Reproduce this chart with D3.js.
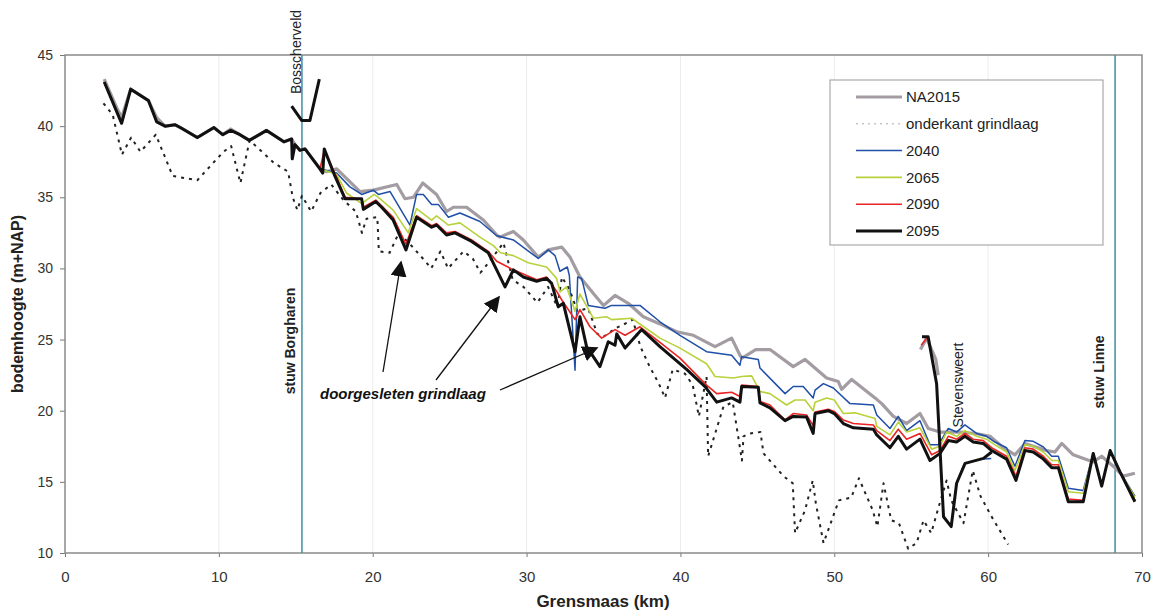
<!DOCTYPE html>
<html><head><meta charset="utf-8">
<script src="https://cdn.jsdelivr.net/npm/d3@7"></script>
<style>
body{margin:0;background:#fff;}
svg{display:block;font-family:"Liberation Sans",Arial,sans-serif;}
</style></head>
<body><svg id="c" width="1151" height="613"></svg>
<script>
// ---- data (km, m+NAP) ----
const xTicks = [0,10,20,30,40,50,60,70];
const yTicks = [10,15,20,25,30,35,40,45];
const upstream = [[2.55,43.1],[3.68,40.2],[4.27,42.6],[5.42,41.8],[5.96,40.3],[6.5,40.0],[7.15,40.1],[7.58,39.85],[8.6,39.2],[9.68,39.9],[10.25,39.4],[10.77,39.7],[11.37,39.4],[11.98,39.0],[13.1,39.7],[14.23,38.9],[14.73,39.1],[14.77,37.7],[14.95,38.7],[15.27,38.3],[15.6,38.4],[16.57,37.0]];
const na2015 = [[2.55,43.3],[3.4,41.2],[3.68,40.6],[4.27,42.6],[5.42,41.8],[5.96,40.6],[6.5,40.0],[7.15,40.1],[7.58,39.85],[8.6,39.2],[9.68,39.9],[10.25,39.4],[10.77,39.8],[11.37,39.4],[11.98,39.0],[13.1,39.7],[14.23,38.9],[14.73,39.1],[14.95,38.7],[15.27,38.3],[15.6,38.4],[16.57,37.0],[17.0,36.8],[17.66,37.0],[19.17,35.4],[20.04,35.5],[21.56,35.9],[22.1,34.9],[22.64,35.0],[23.25,36.0],[24.15,35.2],[24.8,34.0],[25.24,34.3],[26.1,34.3],[27.19,33.4],[28.06,32.35],[28.27,32.2],[29.14,32.6],[29.79,32.0],[30.76,30.8],[31.41,31.3],[32.28,31.5],[32.82,30.8],[33.47,29.4],[34.45,28.1],[35.0,27.4],[35.75,28.1],[36.61,27.55],[37.59,26.6],[38.67,26.1],[39.76,25.55],[40.84,25.3],[42.25,24.5],[43.33,25.1],[43.87,23.9],[44.0,23.7],[44.9,24.3],[45.82,24.3],[47.33,23.1],[48.1,23.6],[49.5,22.3],[50.26,22.05],[50.48,21.5],[51.13,22.2],[52.65,20.9],[53.08,20.5],[53.84,19.6],[54.7,19.1],[55.57,19.8],[56.11,18.75],[56.87,18.5],[58.17,18.5],[59.2,18.4],[60.12,18.2],[60.88,17.5],[61.74,16.9],[62.39,17.7],[63.8,17.2],[64.34,17.1],[64.78,17.7],[65.53,16.9],[66.83,16.4],[67.38,16.8],[68.13,16.1],[68.78,15.4],[69.54,15.6]];
const grindlaag = [[2.5,41.6],[3.1,40.8],[3.7,38.0],[4.3,39.2],[4.9,38.2],[5.9,39.4],[7.0,36.5],[8.6,36.2],[10.3,38.2],[10.8,38.6],[11.4,36.0],[12.0,39.0],[13.6,37.4],[14.5,36.8],[14.8,35.0],[15.1,34.1],[15.4,35.1],[16.0,34.0],[16.6,35.3],[17.3,35.9],[18.1,34.8],[18.9,34.0],[19.3,32.5],[19.6,33.5],[20.3,33.6],[20.4,31.2],[21.1,31.1],[21.7,32.5],[22.6,31.5],[23.5,30.4],[23.8,30.0],[24.4,31.2],[24.9,30.0],[25.9,31.2],[26.5,30.7],[27.0,29.7],[27.6,30.5],[28.5,31.8],[29.1,29.2],[29.8,28.7],[30.7,27.6],[31.4,28.7],[32.0,27.3],[32.3,29.4],[32.8,28.5],[33.3,27.0],[34.0,27.2],[34.6,25.4],[35.0,25.2],[35.8,25.8],[36.2,26.0],[36.9,26.4],[37.4,24.5],[38.0,23.1],[38.6,21.9],[39.0,20.9],[39.5,22.9],[40.3,22.6],[40.8,21.8],[41.2,19.6],[41.7,22.4],[41.8,16.8],[42.8,20.3],[43.4,20.6],[44.0,16.5],[44.1,18.2],[44.5,18.4],[45.2,18.5],[45.4,17.0],[46.7,15.4],[47.3,14.9],[47.45,11.4],[48.1,13.0],[48.6,15.1],[48.8,13.5],[49.3,10.7],[50.3,13.7],[51.1,13.9],[51.6,15.25],[52.5,13.0],[52.8,11.85],[53.2,14.9],[53.7,12.3],[54.2,12.1],[54.8,10.3],[55.35,10.7],[55.8,12.3],[56.3,11.4],[56.8,13.3],[57.3,15.1],[57.6,13.7],[58.4,12.1],[59.0,15.8],[59.5,14.0],[60.2,12.6],[61.3,10.6]];
const s2040 = upstream.concat([[17.66,36.7],[18.5,35.75],[19.28,35.2],[20.04,35.5],[20.37,35.2],[21.13,35.4],[22.42,33.05],[22.85,35.2],[23.29,35.2],[23.83,34.5],[24.26,34.5],[24.92,33.6],[25.67,33.9],[26.97,33.3],[28.06,32.3],[29.14,32.0],[30.76,30.7],[31.41,31.3],[31.85,30.9],[32.17,29.8],[32.65,30.1],[32.78,29.5],[33.15,22.85],[33.32,29.4],[33.58,29.3],[34.01,27.4],[35.1,27.2],[35.53,27.4],[37.37,27.4],[38.67,26.25],[39.97,25.3],[41.7,24.15],[43.33,23.9],[43.87,23.2],[43.98,23.8],[45.06,23.6],[45.17,23.0],[46.8,21.2],[47.33,21.7],[47.98,21.7],[48.63,20.9],[48.75,21.45],[49.29,21.9],[49.94,21.6],[51.02,20.5],[52.54,20.4],[52.76,19.7],[53.62,18.75],[54.16,19.6],[54.7,18.6],[55.57,19.3],[56.22,17.6],[56.76,17.6],[57.41,18.75],[57.95,18.5],[58.49,19.0],[59.25,18.4],[59.9,18.2],[60.44,17.8],[61.2,17.4],[61.74,16.1],[62.39,17.9],[62.93,17.85],[63.59,17.45],[64.13,16.8],[64.56,16.8],[65.21,14.55],[66.18,14.4],[66.83,17.0],[67.38,14.7],[67.93,17.2],[68.57,15.7],[69.54,14.0]]);
const s2065 = upstream.concat([[17.66,36.6],[18.3,35.3],[19.28,34.55],[20.1,35.2],[20.47,34.9],[21.33,34.1],[22.31,32.5],[22.85,34.2],[23.83,33.4],[24.15,33.7],[24.92,33.05],[25.67,33.2],[26.97,32.2],[27.84,31.6],[28.3,31.1],[29.14,30.9],[30.11,30.4],[31.3,30.1],[31.95,29.3],[32.17,28.35],[32.6,28.7],[33.15,27.0],[33.47,28.2],[34.34,26.5],[35.2,26.6],[35.53,26.4],[36.83,26.5],[38.67,25.1],[39.97,24.4],[41.7,23.3],[42.25,22.4],[43.44,22.3],[43.98,22.4],[44.63,22.45],[45.17,21.35],[45.82,21.2],[46.9,20.4],[47.45,20.75],[48.1,20.75],[48.63,20.0],[48.75,20.6],[49.5,20.9],[50.0,20.75],[50.59,19.8],[51.35,19.85],[52.65,19.45],[52.76,18.9],[53.62,18.3],[54.16,19.2],[54.7,18.5],[55.57,18.8],[56.33,17.3],[56.87,17.5],[57.3,18.5],[57.95,18.2],[58.49,18.6],[59.25,18.2],[59.9,18.0],[60.44,17.6],[61.2,17.1],[61.74,15.8],[62.39,17.6],[62.93,17.5],[63.59,17.1],[64.13,16.5],[64.56,16.5],[65.21,14.3],[66.18,14.2],[66.83,17.0],[67.38,14.7],[67.93,17.2],[68.57,15.7],[69.54,13.9]]);
const s2090 = upstream.concat([[16.85,38.3],[17.66,36.4],[18.2,35.0],[19.28,34.9],[19.39,34.3],[20.2,34.8],[20.58,34.4],[21.33,33.6],[22.16,31.7],[22.85,33.7],[23.83,33.0],[24.15,33.15],[24.8,32.5],[25.35,32.6],[26.43,32.0],[27.51,31.2],[28.06,30.5],[28.6,30.2],[29.14,29.9],[30.66,29.2],[31.3,29.4],[31.95,28.4],[32.28,27.8],[33.15,26.4],[33.47,27.1],[34.12,25.9],[34.88,25.1],[35.75,25.7],[36.4,25.3],[37.37,25.9],[38.67,24.8],[39.97,23.7],[41.7,21.8],[42.36,21.2],[43.33,21.3],[43.87,21.0],[43.98,21.8],[45.06,21.7],[45.17,20.65],[45.82,20.4],[46.8,19.35],[47.33,19.8],[48.2,19.7],[48.63,18.95],[48.75,19.9],[49.61,20.1],[50.0,19.95],[50.59,19.35],[51.24,19.1],[52.54,19.0],[52.76,18.6],[53.62,17.9],[54.16,18.7],[54.7,18.0],[55.57,18.4],[56.33,16.9],[56.87,17.2],[57.41,18.2],[57.95,18.0],[58.49,18.4],[59.03,18.0],[59.68,17.9],[60.23,17.4],[61.2,16.8],[61.81,15.4],[62.39,17.4],[62.93,17.3],[63.59,16.8],[64.13,16.2],[64.56,16.2],[65.21,13.8],[66.18,13.7],[66.83,17.0],[67.38,14.7],[67.93,17.2],[68.57,15.7],[69.54,13.7]]);
const s2095 = upstream.concat([[16.75,36.7],[16.85,38.4],[17.5,36.6],[18.2,34.9],[19.28,34.9],[19.39,34.15],[20.2,34.7],[20.58,34.3],[21.33,33.4],[22.16,31.3],[22.85,33.6],[23.83,32.9],[24.15,33.05],[24.8,32.35],[25.35,32.5],[26.43,31.9],[27.51,31.1],[28.6,28.7],[29.14,29.9],[29.79,29.4],[30.66,29.1],[31.3,29.3],[31.63,28.95],[32.06,27.3],[32.39,27.55],[33.15,24.15],[33.47,26.6],[33.9,24.5],[34.77,23.1],[35.31,24.85],[35.75,24.6],[35.86,25.4],[36.4,24.4],[37.48,25.7],[38.67,24.5],[39.43,23.8],[40.4,22.9],[41.6,21.7],[42.36,20.6],[43.33,20.9],[43.87,20.6],[43.98,21.7],[45.06,21.65],[45.17,20.55],[45.82,20.2],[46.8,19.3],[47.33,19.6],[48.2,19.55],[48.63,18.4],[48.75,19.8],[49.61,20.0],[50.0,19.8],[50.59,19.1],[51.24,18.8],[52.54,18.7],[52.76,18.3],[53.62,17.4],[54.16,18.2],[54.7,17.3],[55.57,18.0],[56.22,16.5],[56.87,17.0],[57.41,17.9],[57.95,17.8],[58.49,18.2],[59.03,17.8],[59.68,17.7],[60.23,17.2],[61.2,16.6],[61.81,15.1],[62.39,17.2],[62.93,17.1],[63.59,16.6],[64.13,16.0],[64.56,16.0],[65.21,13.6],[66.18,13.6],[66.83,17.0],[67.38,14.7],[67.93,17.2],[68.57,15.7],[69.54,13.6]]);
const bosscherveld2095 = [[14.73,41.4],[15.38,40.4],[15.92,40.4],[16.53,43.3]];
const stevensweert2095 = [[55.7,25.2],[56.1,25.2],[56.65,21.9],[57.1,12.55],[57.6,11.85],[57.95,14.9],[58.5,16.3],[59.7,16.65],[60.23,17.1]];
const stevensweertNA = [[55.6,24.3],[56.0,25.1],[56.6,23.6],[56.75,22.5]];
const stevensweert2090 = [[55.65,24.6],[56.0,25.1],[56.2,24.9]];
const stevensweert2040 = [[59.7,16.6],[60.2,16.65]];
const structures = [{name:"stuw Borgharen", km:15.4, bold:true},{name:"stuw Linne", km:68.25, bold:true}];
const legendItems = ["NA2015","onderkant grindlaag","2040","2065","2090","2095"];

// ---- chart ----
const svg = d3.select("#c");
const x = d3.scaleLinear().domain([0,70]).range([65,1142]);
const y = d3.scaleLinear().domain([10,45]).range([553,55]);
const line = d3.line().x(d=>x(d[0])).y(d=>y(d[1]));

// faint gridlines
svg.append("g").selectAll("line").data(xTicks.slice(1,-1)).join("line")
  .attr("x1",d=>x(d)).attr("x2",d=>x(d)).attr("y1",55).attr("y2",553)
  .attr("stroke","#ececec").attr("stroke-width",1);

// axes
const ya = svg.append("g").attr("transform","translate(65,0)")
  .call(d3.axisLeft(y).tickValues(yTicks).tickSize(5).tickPadding(7));
const xa = svg.append("g").attr("transform","translate(0,553)")
  .call(d3.axisBottom(x).tickValues(xTicks).tickSize(4).tickPadding(14));
[ya,xa].forEach(a=>{a.select(".domain").remove();a.selectAll("line").attr("stroke","#777");
  a.selectAll("text").attr("fill","#333").style("font-size","14px");});
xa.selectAll("text").style("font-family","'Liberation Sans Narrow','Arial Narrow',sans-serif").style("font-size","15px");

// frame
svg.append("rect").attr("x",65).attr("y",55).attr("width",1142-65).attr("height",553-55)
  .attr("fill","none").attr("stroke","#8a8a8a").attr("stroke-width",1.5);

// structure lines
svg.append("g").selectAll("line").data(structures).join("line")
  .attr("x1",d=>x(d.km)).attr("x2",d=>x(d.km)).attr("y1",55).attr("y2",553)
  .attr("stroke","#3f8f9f").attr("stroke-width",1.5);

const styles = {
  grind:{stroke:"#222",w:2,dash:"3,5"},
  na:{stroke:"#a39ca2",w:3.2},
  b:{stroke:"#1f4fa6",w:1.5},
  g:{stroke:"#b7d23a",w:1.6},
  r:{stroke:"#ea2424",w:1.6},
  k:{stroke:"#111",w:3}
};
function draw(data, s){
  svg.append("path").datum(data).attr("d",line).attr("fill","none")
    .attr("stroke",s.stroke).attr("stroke-width",s.w)
    .attr("stroke-linejoin","round").attr("stroke-dasharray",s.dash||null);
}
draw(grindlaag, styles.grind);
draw(na2015, styles.na);
draw(stevensweertNA, styles.na);
draw(s2040, styles.b);
draw(stevensweert2040, styles.b);
draw(s2065, styles.g);
draw(s2090, styles.r);
draw(stevensweert2090, styles.r);
draw(s2095, styles.k);
draw(bosscherveld2095, styles.k);
draw(stevensweert2095, styles.k);

// axis titles
svg.append("text").attr("x",603).attr("y",607).attr("text-anchor","middle")
  .style("font-family","'Liberation Sans Narrow','Arial Narrow',sans-serif")
  .style("font-size","17px").style("font-weight","bold").attr("fill","#222").text("Grensmaas (km)");
svg.append("text").attr("transform","translate(23,304) rotate(-90)").attr("text-anchor","middle")
  .style("font-size","16px").style("font-weight","bold").attr("fill","#222").text("bodemhoogte (m+NAP)");

// vertical labels
function vlabel(txt,cx,cy,bold){
  svg.append("text").attr("transform",`translate(${cx},${cy}) rotate(-90)`).attr("text-anchor","middle")
    .attr("dy","0.35em").style("font-size","14px").style("font-weight",bold?"bold":"normal")
    .attr("fill","#222").text(txt);
}
vlabel("stuw Borgharen", x(15.4)-12, 341, true);
vlabel("stuw Linne", x(68.25)-16, 372, true);
vlabel("Bosscherveld", x(15.4)-6, 52, false);
vlabel("Stevensweert", x(57.4)+10, 385, false);

// annotation
svg.append("defs").append("marker").attr("id","ah").attr("viewBox","0 0 10 10")
  .attr("refX",9).attr("refY",5).attr("markerWidth",16).attr("markerHeight",16)
  .attr("markerUnits","userSpaceOnUse").attr("orient","auto")
  .append("path").attr("d","M0,0L10,5L0,10z").attr("fill","#111");
const arrows = [[383,372,401,262],[436,380,499,297],[500,390,597,348]];
svg.append("g").selectAll("line").data(arrows).join("line")
  .attr("x1",d=>d[0]).attr("y1",d=>d[1]).attr("x2",d=>d[2]).attr("y2",d=>d[3])
  .attr("stroke","#111").attr("stroke-width",1.3).attr("marker-end","url(#ah)");
svg.append("text").attr("x",320).attr("y",399).style("font-size","15px")
  .style("font-weight","bold").style("font-style","italic").attr("fill","#111").text("doorgesleten grindlaag");

// legend
const lg = svg.append("g");
lg.append("rect").attr("x",830).attr("y",80).attr("width",273).attr("height",165)
  .attr("fill","#fff").attr("stroke","#999").attr("stroke-width",1);
const lstyles = [{stroke:"#a39ca2",w:3},{stroke:"#aaa",w:1,dash:"2,4"},styles.b,styles.g,styles.r,styles.k];
legendItems.forEach((t,i)=>{
  const yy = 97 + i*26.8;
  lg.append("line").attr("x1",856).attr("x2",902).attr("y1",yy).attr("y2",yy)
    .attr("stroke",lstyles[i].stroke).attr("stroke-width",lstyles[i].w).attr("stroke-dasharray",lstyles[i].dash||null);
  lg.append("text").attr("x",906).attr("y",yy).attr("dy","0.35em").style("font-size","15px").attr("fill","#222").text(t);
});
</script></body></html>
